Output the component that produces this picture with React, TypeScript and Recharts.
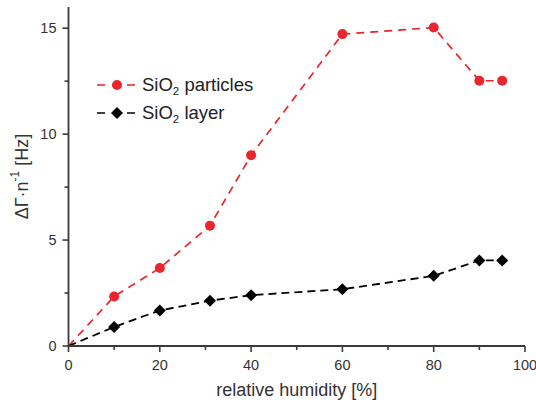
import React from 'react';
import { LineChart, Line, XAxis, YAxis, Legend } from 'recharts';

const humidity = [0, 10, 20, 31, 40, 60, 80, 90, 95];
const particles = [0, 2.34, 3.68, 5.68, 9.0, 14.72, 15.03, 12.52, 12.52];
const layer = [0, 0.9, 1.68, 2.14, 2.4, 2.68, 3.31, 4.04, 4.04];
const xTicks = [0, 10, 20, 30, 40, 50, 60, 70, 80, 90, 100];
const xLabels = [0, 20, 40, 60, 80, 100];
const yTicks = [0, 2.5, 5, 7.5, 10, 12.5, 15];
const yLabels = [0, 5, 10, 15];
const seriesNames = ['particles', 'layer'];

const data = humidity.map((h, i) => ({ x: h, particles: particles[i], layer: layer[i] }));

const FONT = '"Liberation Sans", Arial, sans-serif';
const AXIS = '#3a3a3a';
const RED = '#e8262b';
const BLACK = '#000000';

const XTick = (props: any) => {
  const { x, y, payload } = props;
  const major = xLabels.includes(payload.value);
  return (
    <g>
      <line x1={x} x2={x} y1={y} y2={y + (major ? 6 : 4)} stroke={AXIS} strokeWidth={1.6} />
      {major && (
        <text x={x} y={y + 24} textAnchor="middle" fontSize={14.5} fill="#333" fontFamily={FONT}>
          {payload.value}
        </text>
      )}
    </g>
  );
};

const YTick = (props: any) => {
  const { x, y, payload } = props;
  const major = yLabels.includes(payload.value);
  return (
    <g>
      <line x1={x} x2={x - (major ? 6 : 4)} y1={y} y2={y} stroke={AXIS} strokeWidth={1.6} />
      {major && (
        <text x={x - 12} y={y + 5} textAnchor="end" fontSize={14.5} fill="#333" fontFamily={FONT}>
          {payload.value}
        </text>
      )}
    </g>
  );
};

const RedDot = (props: any) => {
  const { cx, cy, payload } = props;
  if (payload.x === 0) return <g key={`r${cx}`} />;
  return <circle key={`r${cx}`} cx={cx} cy={cy} r={5} fill={RED} />;
};

const Diamond = (props: any) => {
  const { cx, cy, payload } = props;
  if (payload.x === 0) return <g key={`b${cx}`} />;
  const s = 6;
  return (
    <polygon
      key={`b${cx}`}
      points={`${cx},${cy - s} ${cx + s},${cy} ${cx},${cy + s} ${cx - s},${cy}`}
      fill={BLACK}
    />
  );
};

const legendItems = [
  { name: seriesNames[0], color: RED, shape: 'circle' },
  { name: seriesNames[1], color: BLACK, shape: 'diamond' },
];

const renderLegend = () => (
  <div style={{ fontFamily: FONT, fontSize: 18.5, color: '#222' }}>
    {legendItems.map((it) => (
      <div key={it.name} style={{ display: 'flex', alignItems: 'center', height: 28 }}>
        <svg width={47} height={20} style={{ display: 'block' }}>
          <line x1={2} x2={42} y1={10} y2={10} stroke={it.color} strokeWidth={1.7} strokeDasharray="8 7" />
          {it.shape === 'circle' ? (
            <circle cx={22} cy={10} r={5} fill={it.color} />
          ) : (
            <polygon points="22,4 28,10 22,16 16,10" fill={it.color} />
          )}
        </svg>
        <span style={{ lineHeight: '20px', whiteSpace: 'nowrap' }}>
          SiO<sub style={{ fontSize: '0.62em', verticalAlign: '-0.35em', lineHeight: 0 }}>2</sub> {it.name}
        </span>
      </div>
    ))}
  </div>
);

const YLabel = (props: any) => {
  const vb = props.viewBox || { x: 0, y: 7, width: 68, height: 339 };
  const cx = 23;
  const cy = vb.y + vb.height / 2;
  return (
    <text
      x={cx}
      y={cy}
      transform={`rotate(-90, ${cx}, ${cy})`}
      textAnchor="middle"
      fontSize={18}
      fill="#333"
      fontFamily={FONT}
      dominantBaseline="middle"
    >
      ΔΓ·n
      <tspan fontSize={12} dy={-7}>-1</tspan>
      <tspan dy={7}> [Hz]</tspan>
    </text>
  );
};

const XLabel = (props: any) => {
  const vb = props.viewBox || { x: 68, y: 346, width: 457, height: 54 };
  return (
    <text x={vb.x + vb.width / 2} y={396} textAnchor="middle" fontSize={18} fill="#333" fontFamily={FONT}>
      relative humidity [%]
    </text>
  );
};

export default function App() {
  return (
    <div style={{ position: 'absolute', left: 0, top: 0, width: 536, height: 400, background: '#fff' }}>
      <LineChart
        width={536}
        height={400}
        data={data}
        margin={{ top: 7, right: 11, left: 0, bottom: 0 }}
      >
        <XAxis
          dataKey="x"
          type="number"
          domain={[0, 100]}
          ticks={xTicks}
          interval={0}
          height={54}
          stroke={AXIS}
          strokeWidth={1.8}
          tickLine={false}
          tickSize={0}
          tickMargin={0}
          tick={<XTick />}
          label={<XLabel />}
        />
        <YAxis
          type="number"
          domain={[0, 16]}
          ticks={yTicks}
          interval={0}
          width={68.5}
          stroke={AXIS}
          strokeWidth={1.8}
          tickLine={false}
          tickSize={0}
          tickMargin={0}
          tick={<YTick />}
          label={<YLabel />}
        />
        <Legend
          content={renderLegend}
          layout="vertical"
          verticalAlign="middle"
          align="center"
          wrapperStyle={{ left: 95, top: 71, width: 'auto' }}
        />
        <Line
          dataKey="particles"
          stroke={RED}
          strokeWidth={1.7}
          strokeDasharray="8 6"
          dot={<RedDot />}
          activeDot={false}
          isAnimationActive={false}
        />
        <Line
          dataKey="layer"
          stroke={BLACK}
          strokeWidth={1.8}
          strokeDasharray="8 5"
          dot={<Diamond />}
          activeDot={false}
          isAnimationActive={false}
        />
      </LineChart>
    </div>
  );
}
